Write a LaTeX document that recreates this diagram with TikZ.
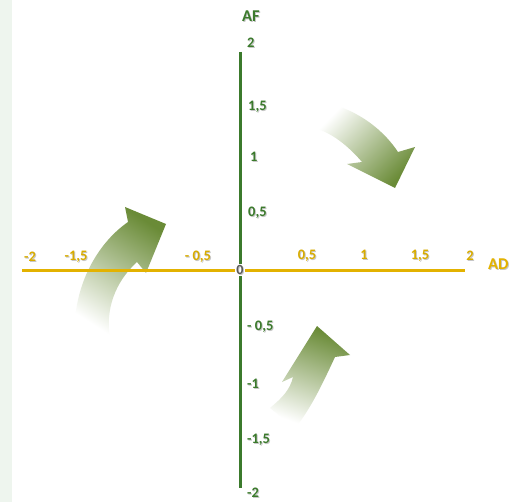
\documentclass[tikz,border=0pt]{standalone}
\usepackage{fontspec}
\setmainfont{Carlito}
\definecolor{axgreen}{HTML}{3B7A2C}
\definecolor{axgold}{HTML}{E3B200}
\definecolor{lblgold}{HTML}{D8AC00}
\definecolor{olive}{HTML}{6A8B37}
\definecolor{strip}{HTML}{EEF5EE}
\newcommand\shtxt[1]{\rlap{\kern1pt\raisebox{-1pt}{\textcolor{black!22}{#1}}}#1}
\begin{document}
\begin{tikzpicture}[x=1pt,y=-1pt,
  vlbl/.style={font=\bfseries\fontsize{14.5}{14.5}\selectfont, text=axgreen, inner sep=0pt, anchor=west},
  hlbl/.style={font=\bfseries\fontsize{14.5}{14.5}\selectfont, text=lblgold, inner sep=0pt},
  ttl/.style={font=\bfseries\fontsize{16.5}{16.5}\selectfont, inner sep=0pt},
  blockarrow/.style={top color=olive, bottom color=white, draw=none}]
\useasboundingbox (0,0) rectangle (510,502);
\fill[white] (0,0) rectangle (510,502);
\fill[strip] (0,0) rectangle (12,502);
% arrows
\shade[blockarrow, shading angle=-33]
  (75,338) .. controls (72,290) and (95,245) .. (128,222) -- (125,207) -- (166,224) -- (146,273) -- (137,262)
  .. controls (115,282) and (105,310) .. (110,338) -- cycle;
\shade[blockarrow, shading angle=-134]
  (323,102) .. controls (352,108) and (380,125) .. (398,152) -- (415,147) -- (395,188) -- (347,164) -- (362,162)
  .. controls (350,148) and (335,135) .. (318,129) -- cycle;
\shade[blockarrow, shading angle=-20]
  (270,408) .. controls (282,398) and (290,390) .. (293,377) -- (282,382) -- (317,326) -- (350,355) -- (335,357)
  .. controls (322,385) and (310,410) .. (295,428) -- cycle;
% axes
\coordinate (vtop) at (240,52);
\coordinate (vbot) at (240,488);
\coordinate (hleft) at (22,270);
\coordinate (hright) at (465,270);
\draw[axgreen, line width=3pt] (vtop) -- (vbot);
\draw[axgold, line width=3pt] (hleft) -- (hright);
\node[fill=white, inner sep=1pt, font=\bfseries\fontsize{14}{14}\selectfont, text=black!65] (zero) at (240,270) {\shtxt{0}};
% titles
\node[ttl, text=axgreen] (af) at (251,17) {\shtxt{AF}};
\node[ttl, text=axgold, anchor=west] (ad) at (488,265) {\shtxt{AD}};
% vertical labels
\node[vlbl] (v2) at (247,43) {\shtxt{2}};
\node[vlbl] (v15) at (248,107) {\shtxt{1,5}};
\node[vlbl] (v1) at (250,157) {\shtxt{1}};
\node[vlbl] (v05) at (248,213) {\shtxt{0,5}};
\node[vlbl] (vm05) at (247,327) {\shtxt{- 0,5}};
\node[vlbl] (vm1) at (247,384) {\shtxt{-1}};
\node[vlbl] (vm15) at (247,440) {\shtxt{-1,5}};
\node[vlbl] (vm2) at (247,493) {\shtxt{-2}};
% horizontal labels
\node[hlbl] (hm2) at (30,257) {\shtxt{-2}};
\node[hlbl] (hm15) at (76,257) {\shtxt{-1,5}};
\node[hlbl] (hm05) at (198,257) {\shtxt{- 0,5}};
\node[hlbl] (h05) at (307,256) {\shtxt{0,5}};
\node[hlbl] (h1) at (364,255) {\shtxt{1}};
\node[hlbl] (h15) at (420,256) {\shtxt{1,5}};
\node[hlbl] (h2) at (470,256) {\shtxt{2}};
\end{tikzpicture}
\end{document}
